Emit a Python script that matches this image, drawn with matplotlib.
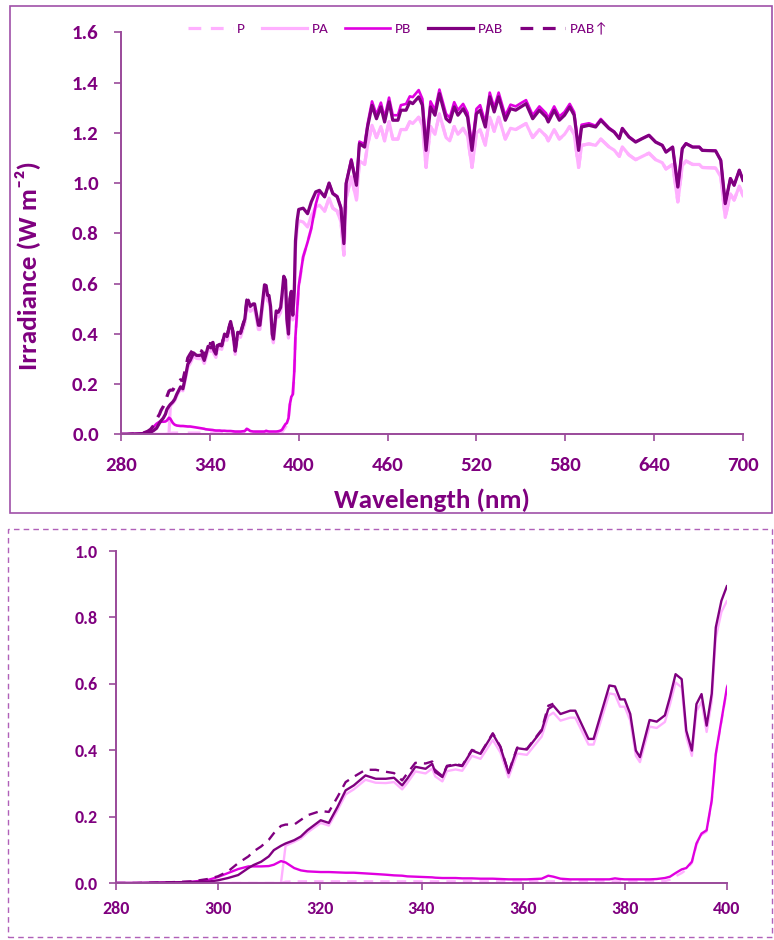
import matplotlib
matplotlib.use('Agg')
import matplotlib.pyplot as plt
from matplotlib.patches import Rectangle
import numpy as np

plt.rcParams['font.family'] = ['Carlito', 'DejaVu Sans']
plt.rcParams['font.weight'] = 'bold'
plt.rcParams['axes.labelweight'] = 'bold'

# wavelength grid, UV part (nm)
wl_uv = [280, 284, 288, 292, 295, 298, 300, 302, 304, 306, 307, 308.5, 310, 311, 312.4,
         313.3, 315, 316.3, 317.6, 320.2, 321.8, 323.5, 325.1, 326.7, 329, 331, 333, 334.6,
         336.2, 337.2, 338.8, 340.8, 342.1, 342.7, 344.1, 345, 346.7, 348, 349.9, 351.6,
         354, 355.5, 357.1, 358.8, 360.7, 363.6, 364.9, 365.9, 367.3, 369.2, 370.2, 372.8,
         373.8, 376.9, 378, 379, 379.9, 381, 382.1, 382.9, 384.8, 386.2, 387.8, 388.8,
         389.9, 391.1, 392, 393.1, 394, 395, 396, 397, 397.8, 398.9, 400]

# wavelength grid, visible part (nm)
wl_vis = [403, 406, 408.5, 411.5, 414, 417.5, 420.5, 423, 426, 428.5, 430.5, 432, 435.5,
          439, 441, 444.5, 446.5, 449.5, 452.5, 455.5, 458, 461, 463.5, 467, 469, 472.5,
          475, 477, 481, 483.5, 486, 489, 492, 495, 499.5, 502, 505, 507.5, 511, 514, 517,
          520, 522.5, 526, 529, 532, 535, 539.5, 543, 546.5, 550, 553.5, 558, 562.5, 567,
          568.5, 572.5, 576, 579.5, 583, 586, 589, 591, 596, 600.5, 604, 609.5, 613, 616.5,
          618.5, 623, 627.5, 632, 636.5, 641, 645.5, 648, 652.5, 656, 659, 661.5, 666,
          670.5, 672.5, 681.5, 685, 688, 691.5, 694, 697.5, 700]

pab_uv = [0.0, 0.0, 0.001, 0.002, 0.003, 0.004, 0.008, 0.015, 0.024, 0.045, 0.054, 0.064,
          0.08, 0.099, 0.112, 0.119, 0.129, 0.14, 0.159, 0.189, 0.181, 0.229, 0.279, 0.294,
          0.324, 0.314, 0.314, 0.317, 0.294, 0.314, 0.35, 0.344, 0.359, 0.334, 0.319, 0.351,
          0.356, 0.352, 0.399, 0.389, 0.449, 0.409, 0.331, 0.406, 0.402, 0.459, 0.524,
          0.534, 0.509, 0.519, 0.519, 0.434, 0.434, 0.595, 0.592, 0.553, 0.553, 0.509,
          0.399, 0.379, 0.491, 0.486, 0.505, 0.56, 0.629, 0.614, 0.459, 0.399, 0.539,
          0.569, 0.474, 0.57, 0.77, 0.85, 0.895]

pab_vis = [0.90, 0.878, 0.925, 0.965, 0.971, 0.945, 1.0, 0.958, 0.945, 0.9, 0.759, 0.998,
           1.09, 0.991, 1.157, 1.143, 1.223, 1.309, 1.256, 1.303, 1.243, 1.323, 1.25, 1.25,
           1.29, 1.29, 1.323, 1.316, 1.343, 1.31, 1.13, 1.303, 1.27, 1.356, 1.256, 1.243,
           1.303, 1.27, 1.296, 1.263, 1.13, 1.276, 1.29, 1.223, 1.343, 1.283, 1.343, 1.25,
           1.296, 1.29, 1.303, 1.316, 1.256, 1.29, 1.263, 1.243, 1.29, 1.25, 1.27, 1.303,
           1.27, 1.13, 1.223, 1.23, 1.223, 1.25, 1.217, 1.203, 1.177, 1.217, 1.183, 1.163,
           1.177, 1.19, 1.163, 1.15, 1.123, 1.143, 0.984, 1.137, 1.157, 1.143, 1.143, 1.13,
           1.128, 1.09, 0.918, 1.018, 0.991, 1.051, 1.011]

# PAB with enhanced UV, only measured to ~366 nm
pab_up_uv = [0.0, 0.0, 0.001, 0.003, 0.005, 0.012, 0.02, 0.035, 0.06, 0.08, 0.095, 0.11,
             0.13, 0.15, 0.172, 0.176, 0.176, 0.19, 0.204, 0.217, 0.214, 0.259, 0.304, 0.32,
             0.341, 0.341, 0.335, 0.331, 0.309, 0.33, 0.362, 0.36, 0.366, 0.34, 0.322,
             0.353, 0.358, 0.354, 0.401, 0.391, 0.451, 0.411, 0.333, 0.408, 0.404, 0.462,
             0.534, 0.54]

pa_uv = [0.0, 0.0, 0.0, 0.0, 0.0, 0.0, 0.0, 0.0, 0.0, 0.0, 0.0, 0.0, 0.0, 0.0, 0.0,
         0.112, 0.124, 0.134, 0.152, 0.181, 0.173, 0.219, 0.267, 0.282, 0.311, 0.302, 0.301,
         0.304, 0.282, 0.301, 0.336, 0.33, 0.345, 0.321, 0.306, 0.337, 0.342, 0.338, 0.383,
         0.374, 0.431, 0.393, 0.318, 0.39, 0.386, 0.441, 0.503, 0.513, 0.489, 0.498, 0.498,
         0.417, 0.417, 0.571, 0.568, 0.531, 0.531, 0.489, 0.383, 0.364, 0.471, 0.467, 0.485,
         0.538, 0.604, 0.589, 0.441, 0.383, 0.517, 0.546, 0.455, 0.547, 0.739, 0.816, 0.85]

pa_vis = [0.845, 0.825, 0.87, 0.905, 0.912, 0.888, 0.94, 0.9, 0.888, 0.846, 0.713, 0.938,
          1.025, 0.932, 1.088, 1.074, 1.15, 1.23, 1.181, 1.225, 1.168, 1.244, 1.175, 1.175,
          1.213, 1.213, 1.244, 1.237, 1.262, 1.231, 1.062, 1.225, 1.194, 1.275, 1.181, 1.168,
          1.225, 1.194, 1.218, 1.187, 1.062, 1.199, 1.213, 1.15, 1.262, 1.206, 1.262, 1.175,
          1.218, 1.213, 1.225, 1.237, 1.181, 1.213, 1.187, 1.168, 1.213, 1.175, 1.194, 1.225,
          1.194, 1.062, 1.15, 1.156, 1.15, 1.175, 1.144, 1.131, 1.106, 1.144, 1.112, 1.093,
          1.106, 1.119, 1.093, 1.081, 1.056, 1.074, 0.925, 1.069, 1.088, 1.074, 1.074, 1.062,
          1.06, 1.025, 0.863, 0.957, 0.932, 0.988, 0.95]

pb_uv = [0.0, 0.0, 0.001, 0.002, 0.004, 0.009, 0.018, 0.03, 0.042, 0.05, 0.05, 0.05, 0.051,
         0.055, 0.066, 0.062, 0.045, 0.038, 0.035, 0.033, 0.033, 0.032, 0.031, 0.031, 0.029,
         0.027, 0.025, 0.023, 0.022, 0.02, 0.019, 0.018, 0.017, 0.016, 0.015, 0.015, 0.015,
         0.014, 0.014, 0.013, 0.013, 0.012, 0.011, 0.011, 0.011, 0.013, 0.022, 0.019, 0.013,
         0.011, 0.011, 0.011, 0.011, 0.011, 0.014, 0.012, 0.011, 0.011, 0.011, 0.011, 0.011,
         0.012, 0.015, 0.019, 0.03, 0.041, 0.045, 0.064, 0.119, 0.149, 0.159, 0.249, 0.389,
         0.489, 0.59]

pb_vis = [0.706, 0.765, 0.82, 0.915, 0.968, 0.945, 1.0, 0.96, 0.948, 0.905, 0.765, 1.0,
          1.095, 0.998, 1.165, 1.155, 1.235, 1.325, 1.272, 1.32, 1.26, 1.34, 1.27, 1.27,
          1.31, 1.315, 1.345, 1.342, 1.37, 1.335, 1.15, 1.325, 1.29, 1.372, 1.275, 1.26,
          1.322, 1.29, 1.315, 1.28, 1.148, 1.295, 1.31, 1.24, 1.36, 1.3, 1.36, 1.268, 1.312,
          1.305, 1.318, 1.33, 1.27, 1.305, 1.278, 1.258, 1.305, 1.265, 1.283, 1.315, 1.282,
          1.14, 1.232, 1.238, 1.228, 1.255, 1.22, 1.205, 1.179, 1.219, 1.185, 1.165, 1.178,
          1.191, 1.164, 1.151, 1.124, 1.144, 0.985, 1.138, 1.158, 1.144, 1.144, 1.131, 1.129,
          1.091, 0.919, 1.019, 0.992, 1.052, 1.012]

p_uv = [0.0] * 15 + [0.004] + [0.005] * 46 + [0.006, 0.01, 0.02, 0.03, 0.04, 0.06, 0.115,
        0.145, 0.155, 0.245, 0.385, 0.485, 0.585]
# above ~410 nm the P film transmits like PA
p_vis = pb_vis[:3] + pa_vis[3:]

wl = wl_uv + wl_vis
series = [
    ('P', p_uv + p_vis, '#FFB0FF', (0, (4, 3))),
    ('PA', pa_uv + pa_vis, '#FFB0FF', '-'),
    ('PB', pb_uv + pb_vis, '#E000E0', '-'),
    ('PAB', pab_uv + pab_vis, '#800080', '-'),
    ('PAB\u2191', pab_up_uv, '#800080', (0, (4, 3))),
]

txt = '#7F007F'
spine_c = '#9A4A9A'

fig = plt.figure(figsize=(7.74, 9.40), dpi=100)

# panel frames
fig.patches.append(Rectangle((10 / 774, 1 - 513 / 940), 762 / 774, 507 / 940,
                             transform=fig.transFigure, fill=False,
                             edgecolor='#A050A8', linewidth=1.2))
fig.patches.append(Rectangle((8 / 774, 1 - 937 / 940), 764 / 774, 408 / 940,
                             transform=fig.transFigure, fill=False,
                             edgecolor='#B060B8', linewidth=1.0, linestyle=(0, (4, 3))))

ax1 = fig.add_axes([121 / 774, 1 - 434.3 / 940, 622 / 774, 402 / 940])
ax2 = fig.add_axes([116 / 774, 1 - 883 / 940, 611 / 774, 332 / 940])

for name, vals, col, ls in series:
    x = wl[:len(vals)]
    lw1 = 1.9 if name == 'PB' else 2.3
    ax1.plot(x, vals, color=col, linestyle=ls, linewidth=lw1, label=name)
    ax2.plot(x, vals, color=col, linestyle=ls, linewidth=1.7)

for ax in (ax1, ax2):
    for s in ('top', 'right'):
        ax.spines[s].set_visible(False)
    for s in ('left', 'bottom'):
        ax.spines[s].set_color(spine_c)
        ax.spines[s].set_linewidth(1.4)
    ax.tick_params(direction='out', length=5, width=1.2, color=spine_c, labelcolor=txt)

ax1.set_xlim(280, 700)
ax1.set_ylim(0, 1.6)
ax1.set_xticks(np.arange(280, 701, 60))
ax1.set_yticks(np.arange(0, 1.61, 0.2))
ax1.yaxis.set_major_formatter(plt.FormatStrFormatter('%.1f'))
ax1.tick_params(axis='both', labelsize=15, pad=11)
ax1.set_xlabel('Wavelength (nm)', fontsize=19.5, fontweight='bold', color=txt)
ax1.set_ylabel('Irradiance (W m\u207b\u00b2)', fontsize=19.5, fontweight='bold', color=txt)
ax1.xaxis.set_label_coords(0.5, -0.135)
ax1.yaxis.set_label_coords(-0.128, 0.42)

ax2.set_xlim(280, 400)
ax2.set_ylim(0, 1.0)
ax2.set_xticks(np.arange(280, 401, 20))
ax2.set_yticks(np.arange(0, 1.01, 0.2))
ax2.yaxis.set_major_formatter(plt.FormatStrFormatter('%.1f'))
ax2.tick_params(axis='both', labelsize=13, pad=8)

leg = fig.legend(*ax1.get_legend_handles_labels(), loc='center',
                 bbox_to_anchor=(398 / 774, 1 - 29 / 940), ncol=5, frameon=False,
                 prop={'size': 11, 'weight': 'normal'}, handlelength=2.95,
                 handletextpad=0.3, columnspacing=1.1)
for t in leg.get_texts():
    t.set_color(txt)

fig.savefig('out.png', dpi=100)
